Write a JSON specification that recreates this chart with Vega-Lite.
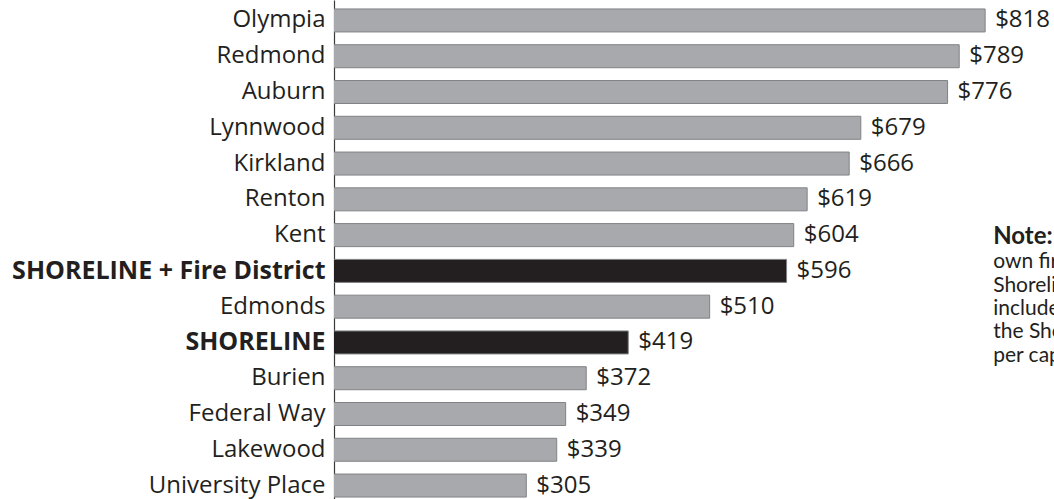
{
  "$schema": "https://vega.github.io/schema/vega-lite/v6.json",
  "autosize": "none",
  "padding": {"left": 334, "top": 0, "right": 0, "bottom": 0},
  "width": 720,
  "height": 506,
  "background": "white",
  "view": {"stroke": null},
  "config": {"font": "Open Sans"},
  "datasets": {
    "cities": [
      {"city": "Olympia", "value": 818},
      {"city": "Redmond", "value": 789},
      {"city": "Auburn", "value": 776},
      {"city": "Lynnwood", "value": 679},
      {"city": "Kirkland", "value": 666},
      {"city": "Renton", "value": 619},
      {"city": "Kent", "value": 604},
      {"city": "SHORELINE + Fire District", "value": 596},
      {"city": "Edmonds", "value": 510},
      {"city": "SHORELINE", "value": 419},
      {"city": "Burien", "value": 372},
      {"city": "Federal Way", "value": 349},
      {"city": "Lakewood", "value": 339},
      {"city": "University Place", "value": 305}
    ],
    "note": [
      {"title": "Note: Shoreline does not operate its", "body": "own fire department. The\nShoreline + Fire District figure\nincludes the per capita budget of\nthe Shoreline Fire District added\nper capita to the City's figure.", "xpos": 827, "anchor": "Kent"}
    ]
  },
  "layer": [
    {
      "data": {"name": "cities"},
      "mark": {"type": "bar", "stroke": "#808285", "strokeWidth": 1, "clip": true},
      "encoding": {
        "y": {
          "field": "city", "type": "nominal", "sort": null,
          "scale": {"paddingInner": 0.357, "paddingOuter": 0.25},
          "axis": {
            "title": null, "ticks": false, "domain": true,
            "domainColor": "#3a3a3a", "domainWidth": 1.2,
            "labelFont": "Open Sans", "labelColor": "#231f20",
            "labelPadding": 9, "labelLimit": 500,
            "labelFontSize": {"condition": {"test": "indexof(datum.value,'SHORELINE')>=0", "value": 25}, "value": 24},
            "labelFontWeight": {"condition": {"test": "indexof(datum.value,'SHORELINE')>=0", "value": "bold"}, "value": "normal"}
          }
        },
        "x": {
          "field": "value", "type": "quantitative",
          "scale": {"domain": [90, 895], "zero": false, "nice": false},
          "axis": null
        },
        "color": {
          "condition": {"test": "indexof(datum.city,'SHORELINE')>=0", "value": "#231f20"},
          "value": "#a7a9ac"
        }
      }
    },
    {
      "data": {"name": "cities"},
      "mark": {"type": "text", "align": "left", "baseline": "middle", "dx": 10, "fontSize": 24, "font": "Open Sans", "color": "#231f20", "clip": false},
      "encoding": {
        "y": {"field": "city", "type": "nominal", "sort": null},
        "x": {"field": "value", "type": "quantitative"},
        "text": {"field": "value", "type": "quantitative", "format": "$.0f"}
      }
    },
    {
      "data": {"name": "note"},
      "mark": {"type": "text", "align": "left", "baseline": "middle", "dy": 2, "fontSize": 24, "fontWeight": "bold", "font": "Lato", "color": "#231f20"},
      "encoding": {
        "x": {"field": "xpos", "type": "quantitative"},
        "y": {"field": "anchor", "type": "nominal", "sort": null},
        "text": {"field": "title"}
      }
    },
    {
      "data": {"name": "note"},
      "mark": {"type": "text", "align": "left", "baseline": "alphabetic", "dy": 33, "fontSize": 21, "font": "Lato", "color": "#231f20", "lineBreak": "\n", "lineHeight": 23.4},
      "encoding": {
        "x": {"field": "xpos", "type": "quantitative"},
        "y": {"field": "anchor", "type": "nominal", "sort": null},
        "text": {"field": "body"}
      }
    }
  ]
}
